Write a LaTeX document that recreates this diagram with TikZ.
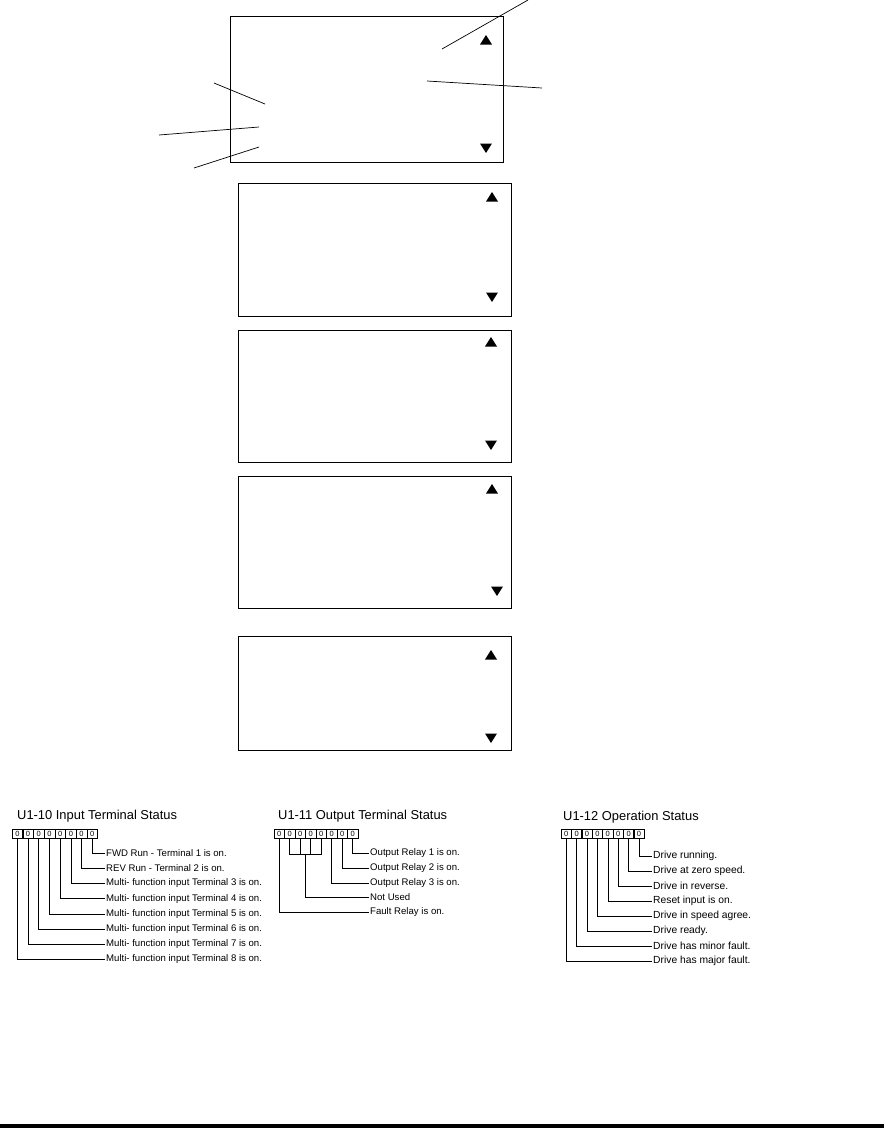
\documentclass[tikz,border=0pt]{standalone}
\usepackage{fontspec}
\setmainfont{Liberation Sans}
\usetikzlibrary{calc}
\tikzset{
  lcd/.style={draw, line width=0.9pt, anchor=north west, inner sep=0pt},
  bitcell/.style={draw, line width=0.5pt, minimum width=10.6pt, minimum height=9.5pt,
                  inner sep=0pt, font=\fontsize{7.5}{7.5}\selectfont},
  bitlbl/.style={anchor=west, inner sep=1pt, font=\fontsize{9.6}{10}\selectfont},
  regtitle/.style={anchor=west, inner sep=0pt, font=\fontsize{12.9}{14}\selectfont},
  bitwire/.style={line width=0.6pt},
  leader/.style={line width=0.7pt},
}

\begin{document}
\begin{tikzpicture}[x=1pt, y=-1pt]
  \useasboundingbox (0,0) rectangle (884,1128);
  % display screens
  \node[lcd, minimum width=273pt, minimum height=146pt] (lcd1) at (230,16) {};
  \node[lcd, minimum width=273pt, minimum height=133pt] (lcd2) at (238,183) {};
  \node[lcd, minimum width=273pt, minimum height=132pt] (lcd3) at (238,330) {};
  \node[lcd, minimum width=273pt, minimum height=132pt] (lcd4) at (238,476) {};
  \node[lcd, minimum width=273pt, minimum height=114pt] (lcd5) at (238,636) {};
  % scroll arrows (up / down)
  \foreach \x/\y in {486/40, 492/197, 491/342, 492/489, 491/655}
    \fill (\x,\y-5) -- (\x+6,\y+4.5) -- (\x-6,\y+4.5) -- cycle;
  \foreach \x/\y in {486/148, 492/297, 491/445, 497/591, 491/738}
    \fill (\x,\y+5) -- (\x+6,\y-4.5) -- (\x-6,\y-4.5) -- cycle;
  % leaders on the first screen
  \draw[leader] (442,49) -- (528,0);
  \draw[leader] (427,81) -- (542,88);
  \draw[leader] (214,83) -- (265,104);
  \draw[leader] (159,135) -- (259,127);
  \draw[leader] (194,168) -- (259,147);

  % U1-10
  \node[regtitle] (intitle) at (17,816) {U1-10 Input Terminal Status};
  \foreach \i in {0,...,7}
    \node[bitcell] (in\i) at ({12+10.7*(\i+0.5)},833.5) {0};
  \foreach \i/\txt in {7/{FWD Run - Terminal 1 is on.}, 6/{REV Run - Terminal 2 is on.},
      5/{Multi- function input Terminal 3 is on.}, 4/{Multi- function input Terminal 4 is on.},
      3/{Multi- function input Terminal 5 is on.}, 2/{Multi- function input Terminal 6 is on.},
      1/{Multi- function input Terminal 7 is on.}, 0/{Multi- function input Terminal 8 is on.}} {
    \node[bitlbl] (inl\i) at (105,{853+15.2*(7-\i)}) {\txt};
    \draw[bitwire] (in\i.south) |- (inl\i.west);
  }

  % U1-11
  \node[regtitle] (outtitle) at (278,816) {U1-11 Output Terminal Status};
  \foreach \i in {0,...,7}
    \node[bitcell] (out\i) at ({274+10.5*(\i+0.5)},833.5) {0};
  \foreach \i/\txt in {7/{Output Relay 1 is on.}, 6/{Output Relay 2 is on.}, 5/{Output Relay 3 is on.}} {
    \node[bitlbl] (outl\i) at (369,{853+15*(7-\i)}) {\txt};
    \draw[bitwire] (out\i.south) |- (outl\i.west);
  }
  \node[bitlbl] (outlnu) at (369,897) {Not Used};
  \node[bitlbl] (outl0) at (369,912) {Fault Relay is on.};
  \draw[bitwire] (out1.south) -- ++(0,16) coordinate (br1) -| (out4.south);
  \foreach \i in {2,3}
    \draw[bitwire] (out\i.south) -- (out\i.south |- br1);
  \coordinate (nu) at ($(br1)!0.5!(out4.south |- br1)$);
  \draw[bitwire] (nu) |- (outlnu.west);
  \draw[bitwire] (out0.south) |- (outl0.west);

  % U1-12
  \node[regtitle] (optitle) at (563,817) {U1-12 Operation Status};
  \foreach \i in {0,...,7}
    \node[bitcell] (op\i) at ({561+10.4*(\i+0.5)},833.5) {0};
  \foreach \i/\txt in {7/{Drive running.}, 6/{Drive at zero speed.}, 5/{Drive in reverse.},
      4/{Reset input is on.}, 3/{Drive in speed agree.}, 2/{Drive ready.},
      1/{Drive has minor fault.}, 0/{Drive has major fault.}} {
    \node[bitlbl, font=\fontsize{10.3}{11}\selectfont] (opl\i) at (652,{856+15*(7-\i)}) {\txt};
    \draw[bitwire] (op\i.south) |- (opl\i.west);
  }

  % page rule
  \fill (0,1124) rectangle (884,1128);
\end{tikzpicture}
\end{document}
